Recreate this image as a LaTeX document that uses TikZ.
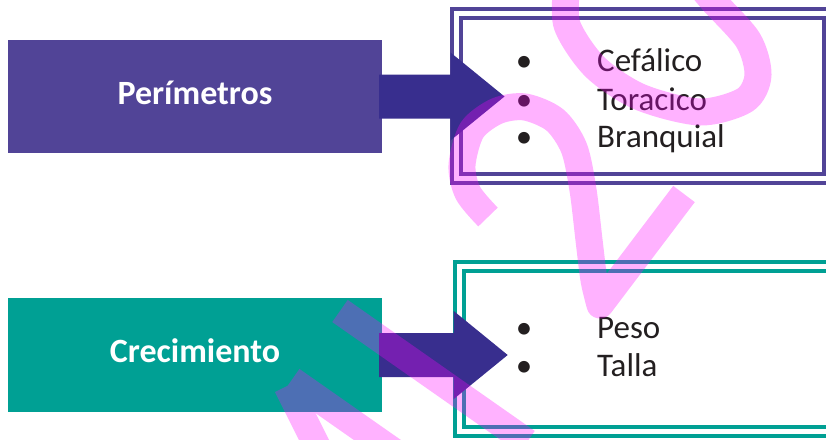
\documentclass[tikz,border=0pt]{standalone}
\usepackage{fontspec}
\setmainfont{Carlito}
\usetikzlibrary{calc,positioning}
\definecolor{morado}{HTML}{514497}
\definecolor{moradoflecha}{HTML}{382E8E}
\definecolor{verde}{HTML}{00A094}
\definecolor{texto}{HTML}{231F20}
\definecolor{rosa}{RGB}{255,0,255}
\tikzset{
  categoria/.style={rectangle,inner sep=0pt,minimum width=374pt,minimum height=113pt,
    text=white,font=\fontsize{34}{40}\selectfont\bfseries,text height=15pt,text depth=0pt},
  marco/.style={rectangle,draw,double,line width=4pt,double distance=5.5pt,outer sep=0pt,inner sep=0pt},
  item/.style={anchor=base west,inner sep=0pt,text=texto,font=\fontsize{33}{38}\selectfont},
  trazo/.style={draw=rosa,line width=27pt,line cap=butt,line join=round},
}
\newcommand{\bala}{\makebox[0pt]{\textbullet}\hspace{73pt}}
\newcommand{\flechabloque}[2]{%
  \coordinate (fa) at ($(#1.east)+(-3,0)$);
  \coordinate (fb) at ($(#2.west |- #1.east)+(-6,0)$);
  \fill[moradoflecha] ($(fa)+(0,-22)$) -- ($(fb)+(0,-22)$) -- ($(fb)+(0,-44)$) -- ($(fb)+(54,0)$)
    -- ($(fb)+(0,44)$) -- ($(fb)+(0,22)$) -- ($(fa)+(0,22)$) -- cycle;}
\begin{document}
\begin{tikzpicture}[x=1pt,y=-1pt]
  \useasboundingbox (0,0) rectangle (826,439);
  \clip (0,0) rectangle (826,439);
  \node[categoria,fill=morado] (perim) at (195,96.5) {Perímetros};
  \node[categoria,fill=verde,minimum height=114pt] (crec) at (195,355) {Crecimiento};
  \node[marco,draw=morado,minimum width=372pt,minimum height=165.4pt] (cajaP) at (642.5,96) {};
  \node[marco,draw=verde,minimum width=380pt,minimum height=165.2pt] (cajaC) at (649.7,348.9) {};
  \flechabloque{perim}{cajaP}
  \flechabloque{crec}{cajaC}
  \node[item] (cefalico) at (524,71.7) {\bala Cefálico};
  \node[item] (toracico) at (524,110) {\bala Toracico};
  \node[item] (branquial) at (524,147.7) {\bala Branquial};
  \node[item] (peso) at (524,338.3) {\bala Peso};
  \node[item] (talla) at (524,376) {\bala Talla};
  \begin{scope}[transparency group,opacity=0.3]
    \draw[trazo] plot[smooth] coordinates {(567,-15) (567,25) (595,67) (640,97) (700,112) (745,100) (758,75) (748,40) (712,0) (700,-15)};
    \draw[trazo] plot[smooth] coordinates {(488,217) (468,193) (462,165) (472,130) (497,111) (525,107) (555,120) (574,148) (583,190) (589,240) (594,280) (600,305)} -- (684,194);
    \draw[trazo] (340,311) -- (527,442);
    \draw[trazo] (317.5,447) -- (287,386);
    \draw[trazo] (291.7,380) -- (396,453);
  \end{scope}
\end{tikzpicture}
\end{document}
